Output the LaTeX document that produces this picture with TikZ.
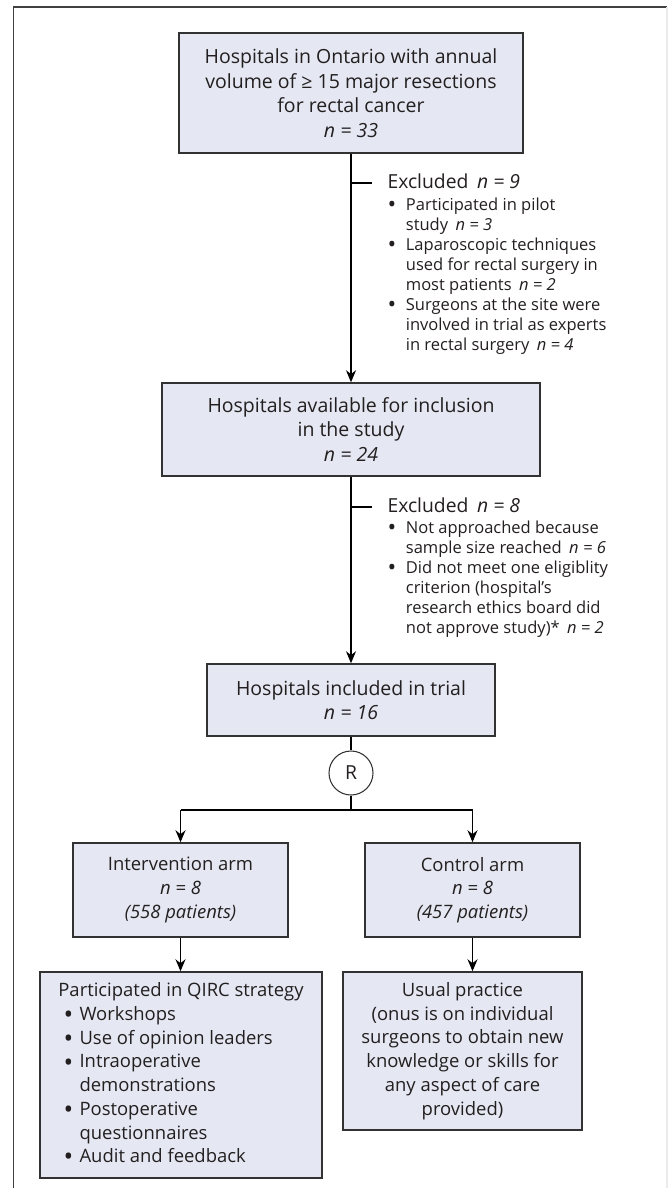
\documentclass[tikz,border=0pt]{standalone}
\usepackage{fontspec}
\setmainfont{Open Sans}
\usetikzlibrary{arrows.meta}
\definecolor{boxfill}{RGB}{229,232,242}
\definecolor{boxline}{RGB}{50,50,50}
\definecolor{textgray}{RGB}{35,31,32}
\tikzset{
  flowbox/.style={draw=boxline, line width=0.85pt, fill=boxfill, align=center, inner sep=0pt,
    font=\fontsize{10.5}{13.5}\selectfont, text=textgray},
  bigbox/.style={flowbox, font=\fontsize{11.1}{14}\selectfont},
  excl/.style={anchor=base west, inner sep=0pt, text=textgray},
  >={Stealth[length=2.4mm,width=2mm]}
}
\newcommand{\nval}[1]{\textit{n = #1}}
\newcommand{\bul}{\smash{\raisebox{-0.32ex}{\scalebox{1.4}{\textbullet}}}}

\begin{document}
\begin{tikzpicture}[line width=0.6pt]
  \useasboundingbox (0,0) rectangle (13.36,-23.76);
  % frame
  \draw[black!75, line width=1pt] (0.27,-23.76) -- (0.27,-0.14) -- (13.34,-0.14);
  \draw[black!8, line width=0.8pt] (13.34,-0.14) -- (13.34,-23.76);

  % boxes
  \node[bigbox, minimum width=6.88cm, minimum height=2.4cm] (top) at (7.02,-1.86)
    {Hospitals in Ontario with annual\\volume of ≥ 15 major resections\\for rectal cancer\\\nval{33}};
  \node[bigbox, minimum width=7.56cm, minimum height=1.86cm] (avail) at (7.02,-8.59)
    {Hospitals available for inclusion\\in the study\\\nval{24}};
  \node[bigbox, minimum width=5.76cm, minimum height=1.44cm] (incl) at (7.02,-14.0)
    {Hospitals included in trial\\\nval{16}};
  \node[draw=boxline, fill=white, circle, minimum size=0.88cm, inner sep=0pt,
    font=\fontsize{11}{13.5}\selectfont, text=textgray] (rand) at (7.02,-15.46) {R};
  \node[flowbox, minimum width=4.3cm, minimum height=1.88cm] (interv) at (3.61,-17.8)
    {Intervention arm\\\nval{8}\\\textit{(558 patients)}};
  \node[flowbox, minimum width=4.3cm, minimum height=1.88cm] (ctrl) at (9.45,-17.8)
    {Control arm\\\nval{8}\\\textit{(457 patients)}};
  \node[flowbox, minimum width=5.64cm, minimum height=4.12cm, align=left] (qirc) at (3.62,-21.5)
    {\begin{tabular}{@{}l@{\hspace{3.5pt}}l@{}}
      \multicolumn{2}{@{}l@{}}{Participated in QIRC strategy}\\
      \hspace{3pt}\bul & Workshops\\
      \hspace{3pt}\bul & Use of opinion leaders\\
      \hspace{3pt}\bul & Intraoperative\\
       & demonstrations\\
      \hspace{3pt}\bul & Postoperative\\
       & questionnaires\\
      \hspace{3pt}\bul & Audit and feedback
    \end{tabular}};
  \node[flowbox, minimum width=4.78cm, minimum height=3.16cm] (usual) at (9.25,-21.02)
    {Usual practice\\(onus is on individual\\surgeons to obtain new\\knowledge or skills for\\any aspect of care\\provided)};

  % exclusions
  \coordinate (b1) at (7.02,-3.66);
  \coordinate (b1e) at (7.44,-3.66);
  \coordinate (b2) at (7.02,-10.14);
  \coordinate (b2e) at (7.44,-10.14);
  \draw (b1) -- (b1e);
  \draw (b2) -- (b2e);
  \node[excl, font=\fontsize{11}{13.5}\selectfont] (ex1) at (7.74,-3.76) {Excluded\hspace{0.45em}\nval{9}};
  \node[excl, font=\fontsize{9.4}{11.4}\selectfont] (ex1list) at (7.74,-4.2)
    {\begin{tabular}[t]{@{}l@{\hspace{5.5pt}}l@{}}
      \bul & Participated in pilot\\
       & study\hspace{0.45em}\nval{3}\\
      \bul & Laparoscopic techniques\\
       & used for rectal surgery in\\
       & most patients\hspace{0.45em}\nval{2}\\
      \bul & Surgeons at the site were\\
       & involved in trial as experts\\
       & in rectal surgery\hspace{0.45em}\nval{4}
    \end{tabular}};
  \node[excl, font=\fontsize{11}{13.5}\selectfont] (ex2) at (7.74,-10.24) {Excluded\hspace{0.45em}\nval{8}};
  \node[excl, font=\fontsize{9.4}{11.4}\selectfont] (ex2list) at (7.74,-10.66)
    {\begin{tabular}[t]{@{}l@{\hspace{5.5pt}}l@{}}
      \bul & Not approached because\\
       & sample size reached\hspace{0.45em}\nval{6}\\
      \bul & Did not meet one eligiblity\\
       & criterion (hospital’s\\
       & research ethics board did\\
       & not approve study)*\hspace{0.45em}\nval{2}
    \end{tabular}};

  % connectors
  \draw[->] (top.south) -- (avail.north);
  \draw[->] (avail.south) -- (incl.north);
  \draw (incl.south) -- (rand.north);
  \coordinate (sl) at (3.61,-16.2);
  \coordinate (sr) at (9.45,-16.2);
  \draw (rand.south) -- (rand.south |- sl);
  \draw (sl) -- (sr);
  \draw[->] (sl) -- (interv.north);
  \draw[->] (sr) -- (ctrl.north);
  \draw[->] (interv.south) -- (interv.south |- qirc.north);
  \draw[->] (ctrl.south) -- (ctrl.south |- usual.north);
\end{tikzpicture}
\end{document}
